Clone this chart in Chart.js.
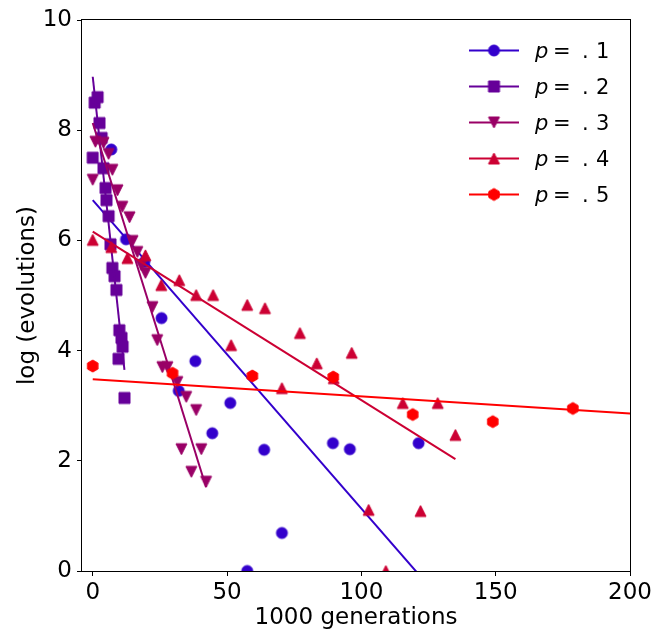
<!DOCTYPE html>
<html><head><meta charset="utf-8">
<script src="https://cdn.jsdelivr.net/npm/chart.js@4.4.0/dist/chart.umd.min.js"></script>
<style>html,body{margin:0;padding:0;background:#fff;}canvas{display:block;}</style>
</head><body>
<canvas id="c" width="655" height="632"></canvas>
<script>
// ---- data ----
const seriesLabels = ['p = .1', 'p = .2', 'p = .3', 'p = .4', 'p = .5'];
const p1X = [6.9, 12.4, 19.2, 25.6, 32.0, 38.2, 44.5, 51.2, 57.5, 63.8, 70.4, 89.4, 95.7, 121.3];
const p1Y = [7.65, 6.02, 5.61, 4.59, 3.27, 3.81, 2.50, 3.05, 0.0, 2.20, 0.69, 2.32, 2.21, 2.32];
const p2X = [0.7, 1.8, 2.5, 3.3, 0.0, 4.0, 4.75, 5.1, 5.9, 6.6, 7.3, 8.1, 8.8, 9.9, 10.7, 11.1, 9.6, 11.8];
const p2Y = [8.50, 8.60, 8.13, 7.86, 7.50, 7.31, 6.95, 6.73, 6.44, 5.93, 5.50, 5.35, 5.10, 4.37, 4.23, 4.07, 3.85, 3.14];
const p3X = [0.0, 1.0, 4.0, 5.9, 7.3, 9.2, 11.0, 13.7, 14.8, 16.6, 18.1, 19.6, 22.2, 24.0, 25.9, 27.8, 31.5, 34.8, 38.5, 33.0, 40.4, 36.7, 42.2];
const p3Y = [7.10, 7.79, 7.77, 7.57, 7.28, 6.91, 6.61, 6.42, 5.99, 5.79, 5.55, 5.41, 4.79, 4.19, 3.70, 3.70, 3.43, 3.16, 2.92, 2.21, 2.21, 1.80, 1.62];
const p4X = [0.0, 6.9, 12.9, 19.6, 25.5, 32.2, 38.5, 44.8, 51.5, 57.5, 64.1, 70.4, 77.1, 83.4, 89.7, 96.4, 102.7, 109.1, 115.4, 122.0, 128.4, 135.0];
const p4Y = [6.01, 5.88, 5.68, 5.73, 5.19, 5.28, 5.01, 5.01, 4.10, 4.83, 4.77, 3.32, 4.32, 3.77, 3.50, 3.96, 1.11, 0.0, 3.05, 1.09, 3.05, 2.47];
const p5X = [0.0, 29.7, 59.4, 89.5, 119.1, 148.9, 178.7];
const p5Y = [3.72, 3.59, 3.54, 3.52, 2.84, 2.71, 2.95];
// fitted lines (end points)
const fit1X = [0, 121.3], fit1Y = [6.73, -0.06];
const fit2X = [0, 11.8],  fit2Y = [8.97, 3.65];
const fit3X = [0, 42.2],  fit3Y = [8.13, 1.52];
const fit4X = [0, 135.0], fit4Y = [6.16, 2.03];
const fit5X = [0, 200],   fit5Y = [3.48, 2.86];
const xTicks = [0, 50, 100, 150, 200];
const yTicks = [0, 2, 4, 6, 8, 10];
const xTitle = '1000 generations';
const yTitle = 'log (evolutions)';

// ---- styles ----
const colors = ['#3300cc', '#660099', '#990066', '#cc0033', '#ff0000'];
const markerKinds = ['circle', 'square', 'tridown', 'triup', 'hex'];
const FONT = 'DejaVu Sans';

function makeMarker(kind, color, s) {
  const size = Math.ceil(s) + 4;
  const c = document.createElement('canvas');
  c.width = c.height = size;
  const g = c.getContext('2d');
  const m = size / 2, h = s / 2;
  g.fillStyle = color; g.strokeStyle = color; g.lineWidth = 1;
  g.beginPath();
  if (kind === 'circle') g.arc(m, m, h, 0, Math.PI * 2);
  else if (kind === 'square') g.rect(m - h, m - h, s, s);
  else if (kind === 'tridown') { g.moveTo(m - h, m - h); g.lineTo(m + h, m - h); g.lineTo(m, m + h); g.closePath(); }
  else if (kind === 'triup') { g.moveTo(m, m - h); g.lineTo(m + h, m + h); g.lineTo(m - h, m + h); g.closePath(); }
  else if (kind === 'hex') {
    for (let k = 0; k < 6; k++) {
      const a = -Math.PI / 2 + k * Math.PI / 3;
      const px = m + h * Math.cos(a), py = m + h * Math.sin(a);
      k ? g.lineTo(px, py) : g.moveTo(px, py);
    }
    g.closePath();
  }
  g.fill(); g.stroke();
  return c;
}
const markerSizes = [11, 11, 11, 11, 12];
const markers = markerKinds.map((k, i) => makeMarker(k, colors[i], markerSizes[i]));

const zip = (xs, ys) => xs.map((x, i) => ({x, y: ys[i]}));
const ptsX = [p1X, p2X, p3X, p4X, p5X], ptsY = [p1Y, p2Y, p3Y, p4Y, p5Y];
const fitX = [fit1X, fit2X, fit3X, fit4X, fit5X], fitY = [fit1Y, fit2Y, fit3Y, fit4Y, fit5Y];

const datasets = [];
let seq = 0;
for (let i = 0; i < 5; i++) {
  datasets.push({
    label: seriesLabels[i] + ' points', data: zip(ptsX[i], ptsY[i]),
    showLine: false, pointStyle: markers[i], pointRadius: 6, pointHoverRadius: 6,
    backgroundColor: colors[i], borderColor: colors[i], clip: 0, order: 100 - (seq++)
  });
  datasets.push({
    label: seriesLabels[i], data: zip(fitX[i], fitY[i]),
    showLine: true, pointRadius: 0, borderWidth: 2, borderColor: colors[i],
    backgroundColor: colors[i], clip: 0, order: 100 - (seq++)
  });
}

const framePlugin = {
  id: 'frame',
  afterDraw(chart) {
    const {ctx, chartArea: a} = chart;
    ctx.save();
    ctx.strokeStyle = '#000'; ctx.lineWidth = 1;
    ctx.strokeRect(Math.round(a.left) - 0.5, Math.round(a.top) - 0.5,
                   Math.round(a.right - a.left) + 1, Math.round(a.bottom - a.top) + 1);
    // legend
    const x0 = 469, x1 = 519, xm = 494, top = 50.5, step = 36;
    for (let i = 0; i < 5; i++) {
      const y = top + i * step;
      ctx.strokeStyle = colors[i]; ctx.lineWidth = 2;
      ctx.beginPath(); ctx.moveTo(x0, y); ctx.lineTo(x1, y); ctx.stroke();
      const mk = markers[i];
      ctx.drawImage(mk, xm - mk.width / 2, y - mk.height / 2);
      const parts = seriesLabels[i].split(' = ');
      ctx.fillStyle = '#000'; ctx.textBaseline = 'alphabetic'; ctx.textAlign = 'left';
      ctx.font = 'italic 21px "' + FONT + '"';
      ctx.fillText(parts[0], 535, y + 7.5);
      ctx.font = '21px "' + FONT + '"';
      ctx.fillText('=', 553, y + 7.5);
      ctx.fillText(parts[1].charAt(0), 582, y + 7.5);
      ctx.fillText(parts[1].slice(1), 596, y + 7.5);
    }
    ctx.restore();
  }
};

new Chart(document.getElementById('c'), {
  type: 'scatter',
  data: {datasets},
  options: {
    responsive: false, animation: false, devicePixelRatio: 1,
    layout: {padding: {top: 20, right: 23, left: 0, bottom: 0}},
    plugins: {legend: {display: false}, tooltip: {enabled: false}},
    scales: {
      x: {
        type: 'linear', min: -4, max: 200,
        afterBuildTicks: s => { s.ticks = xTicks.map(v => ({value: v})); },
        afterFit: s => { s.height = 61; },
        grid: {drawOnChartArea: false, drawTicks: true, tickLength: 5, color: '#000', lineWidth: 1},
        border: {display: false},
        ticks: {color: '#000', font: {family: FONT, size: 23}, padding: 3, maxRotation: 0},
        title: {display: true, text: xTitle, color: '#000', font: {family: FONT, size: 23}, padding: {top: 0, bottom: 0}}
      },
      y: {
        type: 'linear', min: 0, max: 10,
        afterBuildTicks: s => { s.ticks = yTicks.map(v => ({value: v})); },
        afterFit: s => { s.width = 82; },
        grid: {drawOnChartArea: false, drawTicks: true, tickLength: 5, color: '#000', lineWidth: 1},
        border: {display: false},
        ticks: {color: '#000', font: {family: FONT, size: 23}, padding: 5},
        title: {display: true, text: yTitle, color: '#000', font: {family: FONT, size: 23}, padding: {top: 14, bottom: 0}}
      }
    }
  },
  plugins: [framePlugin]
});
</script>
</body></html>
